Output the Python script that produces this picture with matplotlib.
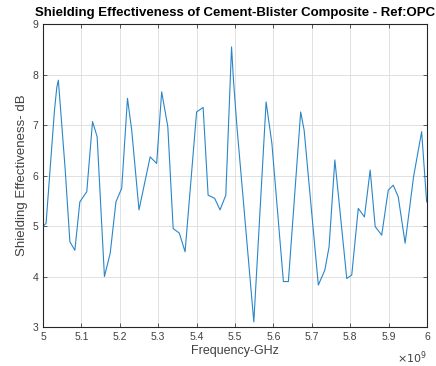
import matplotlib
matplotlib.use('Agg')
import matplotlib.pyplot as plt

plt.rcParams['font.family'] = ['Liberation Sans', 'DejaVu Sans']

# frequency (GHz) and shielding effectiveness (dB)
freq_ghz = [5.0, 5.008, 5.03, 5.036, 5.04, 5.058, 5.07, 5.083, 5.096, 5.114, 5.129, 5.141,
            5.16, 5.175, 5.19, 5.205, 5.22, 5.231, 5.25, 5.279, 5.296, 5.309, 5.325,
            5.339, 5.355, 5.37, 5.4, 5.417, 5.43, 5.447, 5.461, 5.476, 5.491, 5.496,
            5.505, 5.549, 5.581, 5.596, 5.626, 5.639, 5.671, 5.68, 5.717, 5.734,
            5.745, 5.76, 5.791, 5.804, 5.821, 5.837, 5.852, 5.865, 5.882, 5.899,
            5.912, 5.925, 5.943, 5.965, 5.986, 5.999]
se_db = [5.0, 5.05, 7.3, 7.75, 7.89, 6.1, 4.69, 4.52, 5.48, 5.68, 7.07, 6.77,
         4.0, 4.46, 5.48, 5.75, 7.53, 6.9, 5.32, 6.37, 6.24, 7.66, 6.97,
         4.95, 4.86, 4.49, 7.26, 7.35, 5.61, 5.55, 5.32, 5.61, 8.55, 7.89,
         6.97, 3.1, 7.46, 6.64, 3.9, 3.9, 7.26, 6.9, 3.83, 4.13,
         4.59, 6.31, 3.96, 4.03, 5.35, 5.18, 6.11, 4.99, 4.82, 5.71,
         5.81, 5.58, 4.66, 5.98, 6.87, 5.48]

x_ticks = [5.0, 5.1, 5.2, 5.3, 5.4, 5.5, 5.6, 5.7, 5.8, 5.9, 6.0]
x_tick_labels = ['5', '5.1', '5.2', '5.3', '5.4', '5.5', '5.6', '5.7', '5.8', '5.9', '6']
y_ticks = [3, 4, 5, 6, 7, 8, 9]

freq_hz = [f * 1e9 for f in freq_ghz]

fig = plt.figure(figsize=(4.36, 3.66), dpi=100)
ax = fig.add_axes([0.0986, 0.1066, 0.8808, 0.8274])

ax.plot(freq_hz, se_db, color='#2a86c8', linewidth=0.8)

ax.set_xlim(5e9, 6e9)
ax.set_ylim(3, 9)
ax.set_xticks([t * 1e9 for t in x_ticks])
ax.set_xticklabels(x_tick_labels)
ax.set_yticks(y_ticks)

ax.grid(True, color='#dcdcdc', linewidth=0.6)
ax.set_axisbelow(True)
ax.tick_params(direction='in', top=True, right=True, labelsize=7.5,
               colors='#404040', length=3, width=0.6)
for s in ax.spines.values():
    s.set_color('#262626')
    s.set_linewidth(0.8)

ax.set_xlabel('Frequency-GHz', fontsize=9, color='#404040', labelpad=2)
ax.set_ylabel('Shielding Effectiveness- dB', fontsize=9.5, color='#404040', labelpad=3)
ax.set_title('Shielding Effectiveness of Cement-Blister Composite - Ref:OPC',
             fontsize=9.5, fontweight='bold', pad=6)
ax.text(1.0, -0.075, r'$\times 10^9$', transform=ax.transAxes, ha='right', va='top',
        fontsize=8, color='#404040')

fig.savefig('out.png', dpi=100)
